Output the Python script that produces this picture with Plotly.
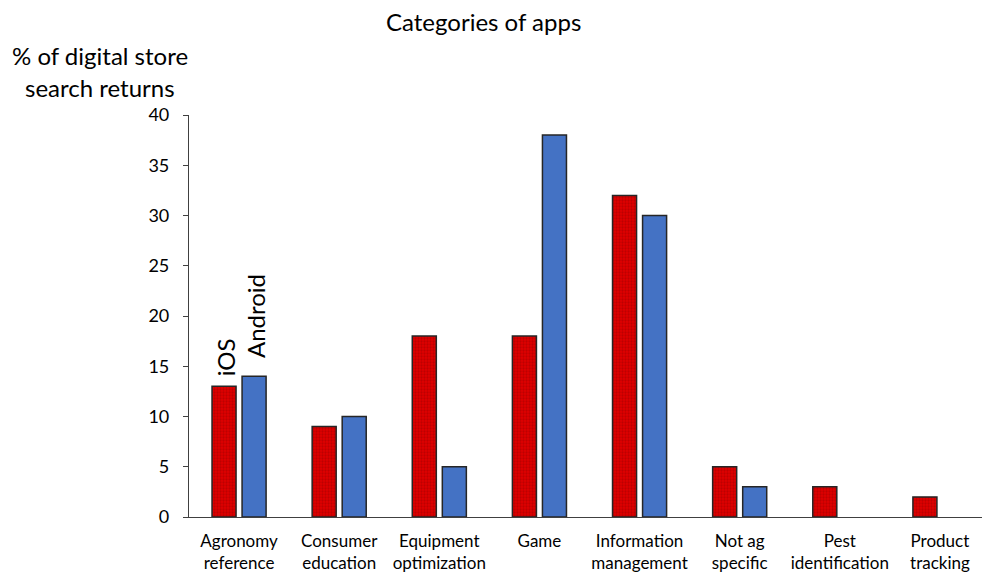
import plotly.graph_objects as go

categories = ["Agronomy<br>reference", "Consumer<br>education", "Equipment<br>optimization",
              "Game", "Information<br>management", "Not ag<br>specific",
              "Pest<br>identification", "Product<br>tracking"]
ios_values = [13, 9, 18, 18, 32, 5, 3, 2]
android_values = [14, 10, 5, 38, 30, 3, 0, 0]
y_ticks = [0, 5, 10, 15, 20, 25, 30, 35, 40]

FONT = "Lato"
W, H = 982, 565          # page body has an 8px margin
L, R, T, B = 181, 0, 107, 56
PH = H - T - B
PW = W - L - R


def outline_widths(values):
    return [1.5 if v else 0 for v in values]


fig = go.Figure()
fig.add_trace(go.Bar(
    x=categories, y=ios_values, name="iOS",
    marker=dict(
        color="#DD0000",
        line=dict(color="#262626", width=outline_widths(ios_values)),
        pattern=dict(shape=".", bgcolor="#E00000", fgcolor="#9A0000", size=3, solidity=0.45),
    ),
))
fig.add_trace(go.Bar(
    x=categories, y=android_values, name="Android",
    marker=dict(color="#4472C4", line=dict(color="#262626", width=outline_widths(android_values))),
))

fig.update_layout(
    width=W, height=H,
    margin=dict(l=L, r=R, t=T, b=B),
    paper_bgcolor="white", plot_bgcolor="white",
    barmode="group", bargap=0.40, bargroupgap=0.2,
    showlegend=False,
    font=dict(family=FONT, color="#000000"),
)
fig.add_annotation(text="Categories of apps", xref="paper", yref="paper",
                   x=(475 - L) / PW, y=1 + (107 - 13) / PH, xanchor="center", yanchor="middle",
                   showarrow=False, font=dict(size=24, family=FONT, color="#000000"))
fig.update_xaxes(
    showline=True, linecolor="#404040", linewidth=1.2,
    ticks="", showgrid=False, ticklabelstandoff=8,
    tickfont=dict(size=17, family=FONT, color="#000000"),
)
fig.update_yaxes(
    range=[0, 40], tickvals=y_ticks,
    showline=True, linecolor="#404040", linewidth=1.2,
    ticks="outside", ticklen=5, tickcolor="#404040",
    showgrid=False, zeroline=False, ticklabelstandoff=10,
    tickfont=dict(size=18, family=FONT, color="#000000"),
)

ytitle_x = (92 - L) / PW
fig.add_annotation(text="% of digital store", xref="paper", yref="paper",
                   x=ytitle_x, y=1 + (107 - 47) / PH, xanchor="center", yanchor="middle",
                   showarrow=False, font=dict(size=24, family=FONT, color="#000000"))
fig.add_annotation(text="search returns", xref="paper", yref="paper",
                   x=ytitle_x, y=1 + (107 - 79) / PH, xanchor="center", yanchor="middle",
                   showarrow=False, font=dict(size=24, family=FONT, color="#000000"))

fig.add_annotation(text="iOS", x=categories[0], y=15.9, xshift=-14, textangle=-90,
                   showarrow=False, font=dict(size=24, family=FONT, color="#000000"))
fig.add_annotation(text="Android", x=categories[0], y=20.0, xshift=16, textangle=-90,
                   showarrow=False, font=dict(size=24, family=FONT, color="#000000"))

fig.write_html("out.html")
